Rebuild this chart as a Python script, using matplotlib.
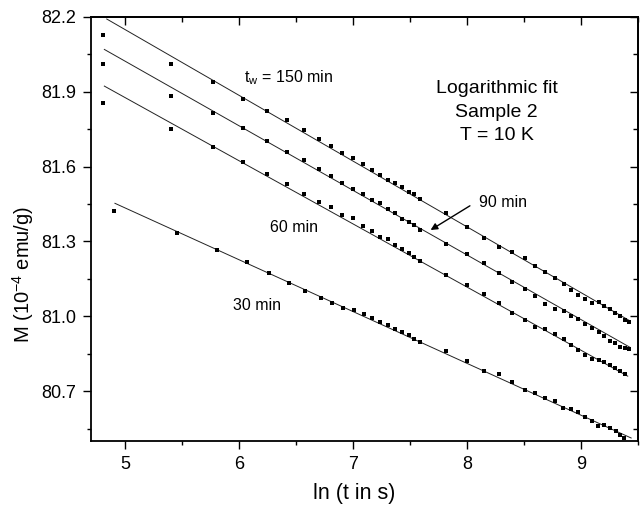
import matplotlib
matplotlib.use("Agg")
import matplotlib.pyplot as plt
from matplotlib.ticker import AutoMinorLocator, FormatStrFormatter, NullFormatter

plt.rcParams['font.family'] = ['Liberation Sans', 'DejaVu Sans']
plt.rcParams['mathtext.fontset'] = 'custom'
plt.rcParams['mathtext.rm'] = 'Liberation Sans'
plt.rcParams['mathtext.it'] = 'Liberation Sans'
plt.rcParams['mathtext.default'] = 'regular'

# ---- data (ln t, M in 1e-4 emu/g) ----
x_top = [4.803, 5.399, 5.768, 6.036, 6.247, 6.417, 6.568, 6.697, 6.808, 6.902,
         6.998, 7.089, 7.165, 7.238, 7.303, 7.369, 7.428, 7.489, 7.533, 7.589,
         7.814, 7.996, 8.150, 8.282, 8.396, 8.507, 8.597, 8.685, 8.770, 8.847,
         8.911, 8.976, 9.036, 9.096, 9.154, 9.203, 9.254, 9.301, 9.346, 9.387,
         9.425]
m150 = [82.128, 82.013, 81.938, 81.873, 81.825, 81.786, 81.748, 81.712, 81.682, 81.656,
        81.633, 81.611, 81.587, 81.568, 81.546, 81.536, 81.517, 81.500, 81.490, 81.471,
        81.413, 81.359, 81.313, 81.279, 81.258, 81.234, 81.202, 81.176, 81.153, 81.131,
        81.105, 81.085, 81.068, 81.054, 81.056, 81.040, 81.028, 81.014, 81.001, 80.985,
        80.977]
m90 = [82.012, 81.884, 81.814, 81.755, 81.704, 81.659, 81.627, 81.589, 81.562, 81.533,
       81.512, 81.490, 81.466, 81.453, 81.430, 81.413, 81.391, 81.379, 81.365, 81.346,
       81.289, 81.249, 81.212, 81.175, 81.139, 81.111, 81.080, 81.049, 81.028, 81.022,
       81.002, 80.988, 80.969, 80.952, 80.937, 80.920, 80.900, 80.894, 80.877, 80.872,
       80.869]
m60 = [81.856, 81.750, 81.680, 81.617, 81.569, 81.529, 81.491, 81.459, 81.437, 81.406,
       81.395, 81.362, 81.343, 81.317, 81.308, 81.285, 81.269, 81.254, 81.239, 81.223,
       81.164, 81.125, 81.089, 81.052, 81.014, 80.985, 80.958, 80.948, 80.928, 80.908,
       80.885, 80.865, 80.846, 80.827, 80.824, 80.815, 80.803, 80.794, 80.781, 80.769]
x30 = [4.902, 5.452, 5.803, 6.066, 6.264, 6.434, 6.577, 6.715, 6.817, 6.915,
       7.007, 7.095, 7.165, 7.238, 7.305, 7.369, 7.428, 7.487, 7.533, 7.589,
       7.814, 7.996, 8.150, 8.279, 8.396, 8.507, 8.597, 8.685, 8.770, 8.843,
       8.911, 8.975, 9.039, 9.097, 9.150, 9.200, 9.253, 9.303, 9.340, 9.378]
m30 = [81.423, 81.335, 81.266, 81.216, 81.172, 81.135, 81.101, 81.073, 81.052, 81.032,
       81.025, 81.008, 80.994, 80.978, 80.964, 80.950, 80.938, 80.924, 80.908, 80.896,
       80.862, 80.821, 80.781, 80.767, 80.735, 80.704, 80.691, 80.674, 80.660, 80.631,
       80.627, 80.615, 80.595, 80.580, 80.560, 80.564, 80.553, 80.541, 80.524, 80.511]

# logarithmic fit lines (end points)
fit_x150 = [4.838, 9.428]; fit_m150 = [82.192, 80.982]
fit_x90 = [4.817, 9.428];  fit_m90 = [82.070, 80.876]
fit_x60 = [4.817, 9.410];  fit_m60 = [81.923, 80.760]
fit_x30 = [4.910, 9.440];  fit_m30 = [81.453, 80.512]

x_ticks = [5, 6, 7, 8, 9]
y_ticks = [80.7, 81.0, 81.3, 81.6, 81.9, 82.2]

# ---- figure ----
fig = plt.figure(figsize=(6.42, 5.08), dpi=100)
ax = fig.add_axes([91/642, 67/508, 547/642, 424/508])

for xf, mf in [(fit_x150, fit_m150), (fit_x90, fit_m90), (fit_x60, fit_m60), (fit_x30, fit_m30)]:
    ax.plot(xf, mf, color='#222222', lw=0.7, zorder=2)

for xs, ms_ in [(x_top, m150), (x_top, m90), (x_top, m60), (x30, m30)]:
    ax.plot(xs[:len(ms_)], ms_, 's', color='black', ms=2.4, mew=0, zorder=3)

ax.set_xlim(4.7, 9.5)
ax.set_ylim(80.5, 82.2)
ax.set_xticks(x_ticks)
ax.set_yticks(y_ticks)
ax.xaxis.set_minor_locator(AutoMinorLocator(2))
ax.yaxis.set_minor_locator(AutoMinorLocator(2))
ax.yaxis.set_major_formatter(FormatStrFormatter('%.1f'))

for s in ax.spines.values():
    s.set_linewidth(1.3)
ax.tick_params(which='major', direction='out', length=5.8, width=1.0, labelsize=13, pad=5)
ax.tick_params(which='minor', direction='out', length=3.2, width=1.0)
ax.tick_params(top=False, right=False)

secx = ax.secondary_xaxis('top')
secx.set_xticks(x_ticks)
secx.xaxis.set_minor_locator(AutoMinorLocator(2))
secx.xaxis.set_major_formatter(NullFormatter())
secx.tick_params(which='major', direction='in', length=5.8, width=1.0)
secx.tick_params(which='minor', direction='in', length=3.5, width=1.0)
secx.spines['top'].set_linewidth(1.3)

secy = ax.secondary_yaxis('right')
secy.set_yticks(y_ticks)
secy.yaxis.set_minor_locator(AutoMinorLocator(2))
secy.yaxis.set_major_formatter(NullFormatter())
secy.tick_params(which='major', direction='in', length=5.8, width=1.0)
secy.tick_params(which='minor', direction='in', length=3.5, width=1.0)
secy.spines['right'].set_linewidth(1.3)

ax.set_xlabel('ln (t in s)', fontsize=15.5)
ax.set_ylabel('M (10$^{-4}$ emu/g)', fontsize=14.5)
ax.xaxis.set_label_coords(0.482, -0.123)
ax.yaxis.set_label_coords(-0.124, 0.392)
ax.yaxis.label.set_va('center')
ax.xaxis.label.set_va('center')

ax.text(8.26, 81.818, 'Logarithmic fit\nSample 2\nT = 10 K', ha='center', va='center',
        fontsize=14, linespacing=1.5)
ax.text(6.437, 81.955, 't$_w$ = 150 min', ha='center', va='center', fontsize=11.5)
ax.text(8.318, 81.455, '90 min', ha='center', va='center', fontsize=11.5)
ax.text(6.48, 81.355, '60 min', ha='center', va='center', fontsize=11.5)
ax.text(6.156, 81.045, '30 min', ha='center', va='center', fontsize=11.5)
ax.annotate('', xy=(7.68, 81.346), xytext=(8.025, 81.443),
            arrowprops=dict(arrowstyle='-|>', color='black', lw=1.0,
                            mutation_scale=10, shrinkA=0, shrinkB=0))

fig.savefig('out.png', dpi=100)
